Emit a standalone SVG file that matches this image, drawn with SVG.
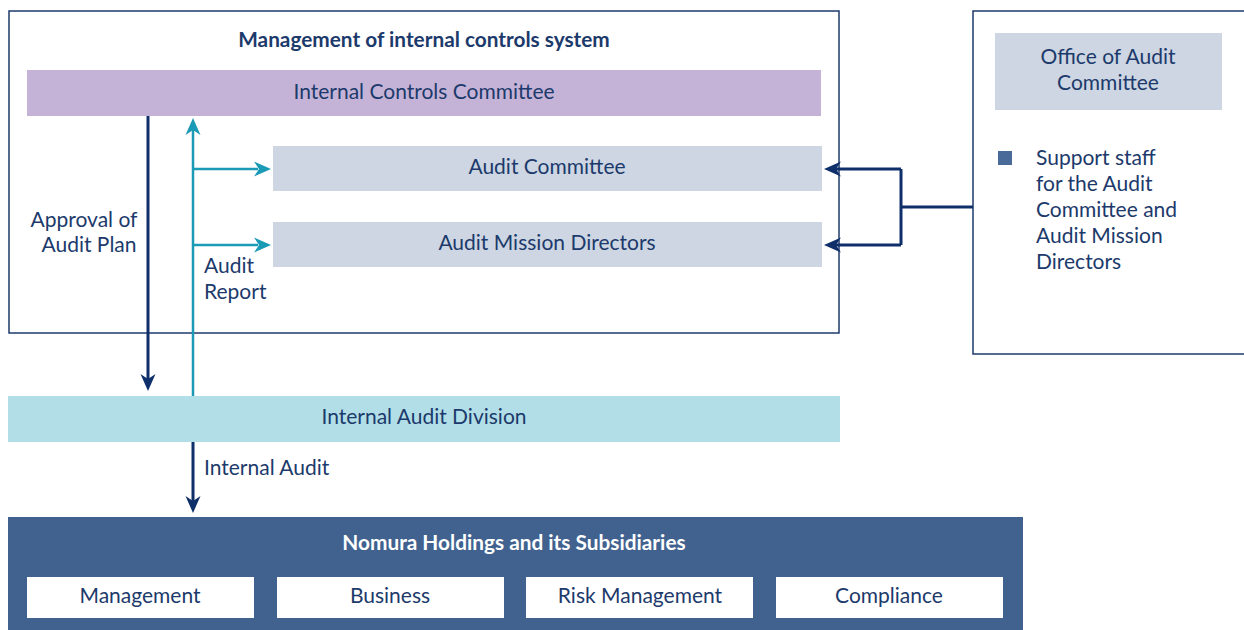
<svg xmlns="http://www.w3.org/2000/svg" xmlns:xlink="http://www.w3.org/1999/xlink" width="1244" height="630" viewBox="0 0 1244 630">
<defs>
<style>
text{font-family:"Lato","Liberation Sans",sans-serif;fill:#1c3a6b;font-size:21px}
.b{font-weight:bold}
.c{text-anchor:middle}
.w{fill:#ffffff}
.frame{fill:#ffffff;stroke:#1c3a6b;stroke-width:1.5}
.navy{stroke:#0f2f6b;stroke-width:3;fill:none}
.teal{stroke:#1a9ab5;stroke-width:2.5;fill:none}
.hn{fill:#0f2f6b}
.ht{fill:#1a9ab5}
</style>
<path id="ah" d="M0,0 L-17,-7.5 L-12,0 L-17,7.5 Z"/>
</defs>
<rect width="1244" height="630" fill="#ffffff"/>
<g id="mgmt-system">
<rect class="frame" x="9" y="11" width="830" height="322"/>
<text class="b c" x="424" y="47" style="font-size:20.8px">Management of internal controls system</text>
</g>
<g id="office-audit">
<rect class="frame" x="973" y="11" width="272" height="343"/>
<rect x="995" y="33" width="227" height="77" fill="#cdd6e2"/>
<text class="c" x="1108" y="64">Office of Audit</text>
<text class="c" x="1108" y="90">Committee</text>
<rect x="998" y="151" width="14" height="14" fill="#4a6a9a"/>
<text x="1036" y="165">Support staff</text>
<text x="1036" y="191">for the Audit</text>
<text x="1036" y="217">Committee and</text>
<text x="1036" y="243">Audit Mission</text>
<text x="1036" y="269">Directors</text>
</g>
<g id="icc">
<rect x="27" y="70" width="794" height="46" fill="#c5b3d7"/>
<text class="c" x="424" y="99">Internal Controls Committee</text>
</g>
<g id="audit-committee">
<rect x="273" y="146" width="549" height="45" fill="#cdd6e2"/>
<text class="c" x="547" y="174">Audit Committee</text>
</g>
<g id="amd">
<rect x="273" y="222" width="549" height="45" fill="#cdd6e2"/>
<text class="c" x="547" y="250">Audit Mission Directors</text>
</g>
<g id="iad">
<rect x="8" y="396" width="832" height="46" fill="#b2dfe7"/>
<text class="c" x="424" y="424">Internal Audit Division</text>
</g>
<g id="nomura">
<rect x="8" y="517" width="1015" height="113" fill="#41628f"/>
<text class="b c w" x="514" y="550" style="font-size:20.8px">Nomura Holdings and its Subsidiaries</text>
<rect x="27" y="577" width="227" height="41" fill="#ffffff"/>
<text class="c" x="140" y="603">Management</text>
<rect x="277" y="577" width="227" height="41" fill="#ffffff"/>
<text class="c" x="390" y="603">Business</text>
<rect x="526" y="577" width="227" height="41" fill="#ffffff"/>
<text class="c" x="640" y="603">Risk Management</text>
<rect x="776" y="577" width="227" height="41" fill="#ffffff"/>
<text class="c" x="889" y="603">Compliance</text>
</g>
<g id="connectors">
<line class="navy" x1="148" y1="116" x2="148" y2="380"/>
<use href="#ah" xlink:href="#ah" class="hn" transform="translate(148,391) rotate(90)"/>
<line class="teal" x1="193" y1="396" x2="193" y2="130"/>
<use href="#ah" xlink:href="#ah" class="ht" transform="translate(193,118) rotate(-90)"/>
<line class="teal" x1="193" y1="169" x2="258" y2="169"/>
<use href="#ah" xlink:href="#ah" class="ht" transform="translate(271,169)"/>
<line class="teal" x1="193" y1="245" x2="258" y2="245"/>
<use href="#ah" xlink:href="#ah" class="ht" transform="translate(271,245)"/>
<line class="navy" x1="193" y1="442" x2="193" y2="502"/>
<use href="#ah" xlink:href="#ah" class="hn" transform="translate(193,513) rotate(90)"/>
<line class="navy" x1="973" y1="207" x2="901" y2="207"/>
<polyline class="navy" points="901,169 901,245"/>
<line class="navy" x1="901" y1="169" x2="835" y2="169"/>
<use href="#ah" xlink:href="#ah" class="hn" transform="translate(824,169) rotate(180)"/>
<line class="navy" x1="901" y1="245" x2="835" y2="245"/>
<use href="#ah" xlink:href="#ah" class="hn" transform="translate(824,245) rotate(180)"/>
<text class="c" x="84" y="227">Approval of</text>
<text class="c" x="89" y="252">Audit Plan</text>
<text x="204" y="273">Audit</text>
<text x="204" y="299">Report</text>
<text x="204" y="475">Internal Audit</text>
</g>
</svg>
